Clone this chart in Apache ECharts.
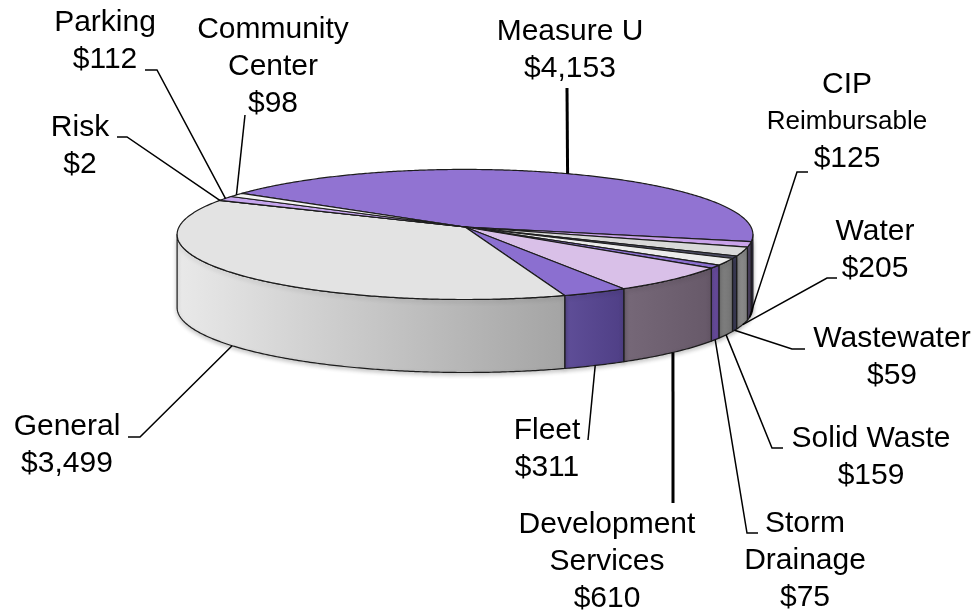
<!DOCTYPE html>
<html>
<head>
<meta charset="utf-8">
<script src="https://cdn.jsdelivr.net/npm/echarts@6/dist/echarts.min.js"></script>
<style>
  html, body { margin: 0; padding: 0; background: #ffffff; }
  #chart { width: 980px; height: 612px; }
</style>
</head>
<body>
<div id="chart"></div>
<script>
// Fund totals, listed clockwise starting with Measure U
const categories = ['Measure U', 'CIP Reimbursable', 'Water', 'Wastewater', 'Solid Waste',
  'Storm Drainage', 'Development Services', 'Fleet', 'General', 'Risk', 'Parking', 'Community Center'];
const amounts = [4153, 125, 205, 59, 159, 75, 610, 311, 3499, 2, 112, 98];
const labelNames = ['Measure U', 'CIP\n{s|Reimbursable}', 'Water', 'Wastewater', 'Solid Waste',
  'Storm\nDrainage', 'Development\nServices', 'Fleet', 'General', 'Risk', 'Parking', 'Community\nCenter'];

// Face colours: lit top surface and the darker rim (left -> right shade)
const topColors = ['#9173d2', '#c9a3ea', '#d9d9d9', '#4a4a60', '#ececec', '#8b6fd0',
  '#d9c0e8', '#8b6fd0', '#e3e3e3', '#8b6fd0', '#c6a6ee', '#f4f4f4'];
const sideColors = [
  ['#55438e', '#4a3a80'], ['#5a4f70', '#4e4466'], ['#8e8e8e', '#848484'], ['#42425e', '#3a3a56'],
  ['#808080', '#767676'], ['#6d51a2', '#634798'], ['#766878', '#675969'], ['#5f4e98', '#4f3f86'],
  ['#e9e9e9', '#a4a4a4'], ['#6d51a2', '#634798'], ['#9c86cc', '#8c76bc'], ['#d0d0d0', '#c0c0c0']
];

// Label placement: centre of the first text line, bend points of the leader, which rim it meets
const labelLayout = [
  { x: 570, y: 32,  path: [[567, 88]], rim: 'top', w: 3 },
  { x: 847, y: 85,  path: [[808, 172], [797, 172]], rim: 'bottom', w: 1.5 },
  { x: 875, y: 232, path: [[837, 278], [827, 278]], rim: 'bottom', w: 1.5 },
  { x: 892, y: 339, path: [[805, 349], [792, 349]], rim: 'bottom', w: 1.5 },
  { x: 871, y: 439, path: [[783, 448], [772, 448]], rim: 'bottom', w: 1.5 },
  { x: 805, y: 524, path: [[758, 533], [747, 533]], rim: 'bottom', w: 1.5 },
  { x: 607, y: 525, path: [[673, 503]], rim: 'bottom', w: 3 },
  { x: 547, y: 431, path: [[588, 440]], rim: 'bottom', w: 1.5 },
  { x: 67,  y: 427, path: [[128, 437], [140, 437]], rim: 'bottom', w: 1.5 },
  { x: 80,  y: 128, path: [[117, 137], [127, 137]], rim: 'top', w: 1.5 },
  { x: 105, y: 23,  path: [[145, 70], [157, 70]], rim: 'top', w: 1.5 },
  { x: 273, y: 30,  path: [[245, 115]], rim: 'top', w: 1.5 }
];

// Perspective view of the disc
const view = { cx: 465, cy: 227, F: 2430, D: 8.497, tilt: 12.97, depth: 73, start: 213.9 };
const sinA = Math.sin(view.tilt * Math.PI / 180);
const cosA = Math.cos(view.tilt * Math.PI / 180);
const silhouette = Math.asin(cosA / view.D) * 180 / Math.PI;

const total = amounts.reduce((s, v) => s + v, 0);
const before = amounts.map((_, i) => amounts.slice(0, i).reduce((s, v) => s + v, 0));

function rim(deg, lower) {
  const t = deg * Math.PI / 180;
  const x = Math.cos(t), z = Math.sin(t);
  const den = view.D - cosA * z;
  return [view.cx + view.F * x / den, view.cy + view.F * sinA * z / den + (lower ? view.depth : 0)];
}
function arc(a, b, lower) {
  const pts = [];
  const n = Math.max(2, Math.ceil(Math.abs(b - a) / 0.5));
  for (let k = 0; k <= n; k++) pts.push(rim(a + (b - a) * k / n, lower));
  return pts;
}

const FONT = '"Liberation Sans", Arial, Helvetica, sans-serif';

function renderItem(params, api) {
  const i = params.dataIndex;
  const v = api.value(0);
  const a0 = view.start + 360 * before[i] / total;
  const a1 = a0 + 360 * v / total;
  const children = [];

  // visible outer wall
  [0, 360].forEach(off => {
    const lo = Math.max(a0, silhouette + off);
    const hi = Math.min(a1, 180 - silhouette + off);
    if (hi > lo) {
      const pts = arc(lo, hi, false).concat(arc(hi, lo, true));
      const xs = pts.map(p => p[0]);
      const fill = new echarts.graphic.LinearGradient(Math.min(...xs), 0, Math.max(...xs), 0, [
        { offset: 0, color: sideColors[i][0] },
        { offset: 1, color: sideColors[i][1] }
      ], true);
      children.push({
        type: 'polygon', z2: 1,
        shape: { points: pts },
        style: {
          fill: fill, stroke: '#1c1c1c', lineWidth: 1.2, lineJoin: 'round',
          shadowBlur: 4, shadowColor: 'rgba(0,0,0,0.22)', shadowOffsetY: 2
        }
      });
    }
  });

  // top face
  children.push({
    type: 'polygon', z2: 2,
    shape: { points: [[view.cx, view.cy]].concat(arc(a0, a1, false)) },
    style: { fill: topColors[i], stroke: '#1c1c1c', lineWidth: 1.2, lineJoin: 'round' }
  });

  // leader line and label
  const lay = labelLayout[i];
  const anchor = rim((a0 + a1) / 2, lay.rim === 'bottom');
  children.push({
    type: 'polyline', z2: 3,
    shape: { points: lay.path.concat([anchor]) },
    style: { stroke: '#000', lineWidth: lay.w, fill: null }
  });
  children.push({
    type: 'text', z2: 4,
    x: lay.x, y: lay.y - 18.5,
    style: {
      text: labelNames[i] + '\n$' + v.toLocaleString('en-US'),
      align: 'center', verticalAlign: 'top',
      fontSize: 30, fontFamily: FONT, lineHeight: 37, fill: '#000',
      rich: { s: { fontSize: 26, lineHeight: 37, fontFamily: FONT, fill: '#000' } }
    }
  });
  return { type: 'group', children: children };
}

const chart = echarts.init(document.getElementById('chart'), null, { renderer: 'canvas' });
chart.setOption({
  backgroundColor: '#ffffff',
  animation: false,
  series: [{
    type: 'custom',
    coordinateSystem: 'none',
    renderItem: renderItem,
    data: categories.map((name, i) => ({ name: name, value: [amounts[i]] }))
  }]
});
</script>
</body>
</html>
